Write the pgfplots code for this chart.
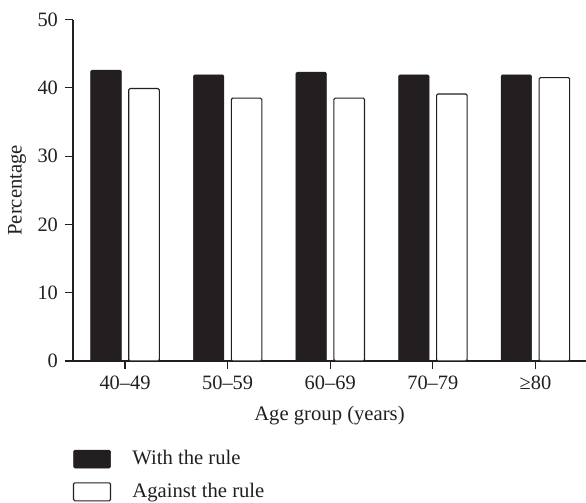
\documentclass[border=0pt]{standalone}
\usepackage{fontspec}
\setmainfont{Liberation Serif}
\usepackage{pgfplots}
\pgfplotsset{compat=1.18}
\definecolor{ink}{HTML}{231F20}
\begin{document}
\fontsize{15.3}{18}\selectfont
\begin{tikzpicture}
\begin{axis}[
  scale only axis, width=384.75pt, height=256.1pt,
  at={(0,0)}, anchor=south west,
  xmin=-0.507, xmax=4.493, ymin=0, ymax=50,
  axis x line=bottom, axis y line=left,
  axis line style={-, ink, line width=0.8pt},
  xtick={0,1,2,3,4}, xticklabels={40–49,50–59,60–69,70–79,≥80},
  ytick={0,10,20,30,40,50},
  tick align=outside, major tick length=6pt,
  tick style={ink, line width=0.8pt},
  tick label style={font=\fontsize{15.3}{18}\selectfont, text=ink},
  /pgf/number format/assume math mode=true,
  ylabel={Percentage},
  ylabel style={at={(axis description cs:-0.109,0.5)}, anchor=center, rotate=0, font=\fontsize{15.5}{18}\selectfont, text=ink},
  xlabel={Age group (years)},
  xlabel style={at={(axis description cs:0.5,-0.16)}, anchor=center, font=\fontsize{15.5}{18}\selectfont, text=ink},
  legend style={at={(axis description cs:0,-0.254)}, anchor=north west, draw=none, fill=none,
    inner sep=0pt, outer sep=0pt, row sep=7.5pt, font=\fontsize{15.5}{18}\selectfont, text=ink,
    cells={anchor=west}, /tikz/every odd column/.style={column sep=14pt}},
  legend cell align=left,
]
\addplot[ybar, bar width=22.9pt, bar shift=-14.25pt, fill=ink, draw=ink, rounded corners=1pt,
  legend image code/.code={\draw[fill=ink, draw=ink] (0pt,-6.75pt) rectangle (27.75pt,6.75pt);}]
  coordinates {(0,42.6) (1,41.9) (2,42.3) (3,41.9) (4,41.9)};
\addlegendentry{With the rule}
\addplot[ybar, bar width=22.9pt, bar shift=14.25pt, fill=white, draw=ink, line width=0.8pt, rounded corners=1pt,
  legend image code/.code={\draw[fill=white, draw=ink, line width=0.8pt] (0pt,-6.75pt) rectangle (27.75pt,6.75pt);}]
  coordinates {(0,39.9) (1,38.5) (2,38.5) (3,39.1) (4,41.5)};
\addlegendentry{Against the rule}
\end{axis}
\pgfresetboundingbox
\path (-54.75pt,-106.5pt) rectangle (384.75pt,270.75pt);
\end{tikzpicture}
\end{document}
